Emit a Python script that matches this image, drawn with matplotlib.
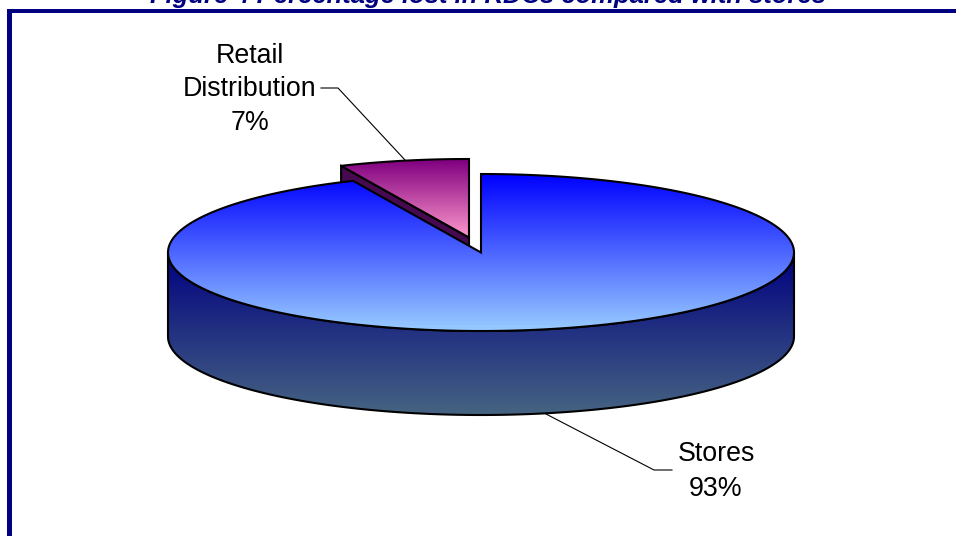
import numpy as np
import matplotlib
matplotlib.use("Agg")
import matplotlib.pyplot as plt
from matplotlib.patches import Polygon, Rectangle
from matplotlib.colors import LinearSegmentedColormap

categories = ["Stores", "Retail\nDistribution"]
values = [93.3, 6.7]
labels_pct = ["93%", "7%"]
title = "Figure 4 Percentage lost in RDCs compared with stores"

NAVY = "#000080"
CX, CY, A, B, DEPTH = 481, 252.5, 313, 78.5, 84
EX_DX, EX_DY = -12, -15

fig = plt.figure(figsize=(9.56, 5.36), dpi=100, facecolor="white")
ax = fig.add_axes([0, 0, 1, 1])
ax.set_xlim(0, 956)
ax.set_ylim(536, 0)
ax.axis("off")
plt.rcParams["font.family"] = ["Liberation Sans"]

def arc(t0, t1, cx=CX, cy=CY, n=300):
    # angles clockwise from twelve o'clock, in degrees
    t = np.radians(np.linspace(t0, t1, n))
    return np.column_stack([cx + A * np.sin(t), cy - B * np.cos(t)])

def grad(poly, c0, c1, y0, y1, z):
    cmap = LinearSegmentedColormap.from_list("g", [c0, c1])
    patch = Polygon(poly, closed=True, fc="none", ec="none", transform=ax.transData)
    ax.add_patch(patch)
    im = ax.imshow(np.linspace(0, 1, 256)[:, None], cmap=cmap, aspect="auto",
                   extent=(0, 956, y1, y0), zorder=z, interpolation="bilinear")
    im.set_clip_path(patch)

total = sum(values)
main_sweep = 360 * values[0] / total
wedge_sweep = 360 * values[1] / total
start_main, end_main = 0, main_sweep
start_w, end_w = main_sweep, main_sweep + wedge_sweep

# exploded wedge
wx, wy = CX + EX_DX, CY + EX_DY
w_arc = arc(start_w, end_w, wx, wy)
w_top = np.vstack([[wx, wy], w_arc])
w_edge = w_arc[0]
w_wall = np.array([[wx, wy], w_edge, w_edge + [0, DEPTH], [wx, wy + DEPTH]])
ax.add_patch(Polygon(w_wall, closed=True, fc="#470a50", ec="black", lw=1.5, zorder=2))
grad(w_top, "#800080", "#ff99cc", 160, 238, 3)
ax.add_patch(Polygon(w_top, closed=True, fc="none", ec="black", lw=1.5, zorder=4))

# main slice
m_arc = arc(start_main, end_main)
m_top = np.vstack([[CX, CY], m_arc])
front = arc(90, 270)
m_wall = np.vstack([front, front[::-1] + [0, DEPTH]])
grad(m_wall, "#000080", "#466482", CY, CY + B + DEPTH, 5)
ax.add_patch(Polygon(m_wall, closed=True, fc="none", ec="black", lw=1.5, zorder=6))
grad(m_top, "#0000ff", "#99ccff", CY - B, CY + B, 7)
ax.add_patch(Polygon(m_top, closed=True, fc="none", ec="black", lw=1.5, zorder=8))

# leaders
ax.plot([321, 338, 405], [88, 88, 160], color="black", lw=0.8, zorder=9)
ax.plot([546, 654, 672], [414, 470, 470], color="black", lw=0.8, zorder=9)

# labels
ax.text(250, 89.5, f"{categories[1]}\n{labels_pct[1]}", ha="center", va="center",
        fontsize=19.3, linespacing=1.37, color="black", zorder=10)
ax.text(716, 471.5, f"{categories[0]}\n{labels_pct[0]}", ha="center", va="center",
        fontsize=19.3, linespacing=1.42, color="black", zorder=10)

# frame and title
ax.add_patch(Rectangle((7, 9), 949, 4.3, fc=NAVY, ec="none", zorder=11))
ax.add_patch(Rectangle((7, 9), 5, 527, fc=NAVY, ec="none", zorder=11))
ax.text(488, 3.5, title, ha="center", va="baseline", fontsize=18.45,
        fontweight="bold", fontstyle="italic", color=NAVY, zorder=12)

ax.set_xlim(0, 956)
ax.set_ylim(536, 0)
fig.savefig("out.png", dpi=100, facecolor="white")
